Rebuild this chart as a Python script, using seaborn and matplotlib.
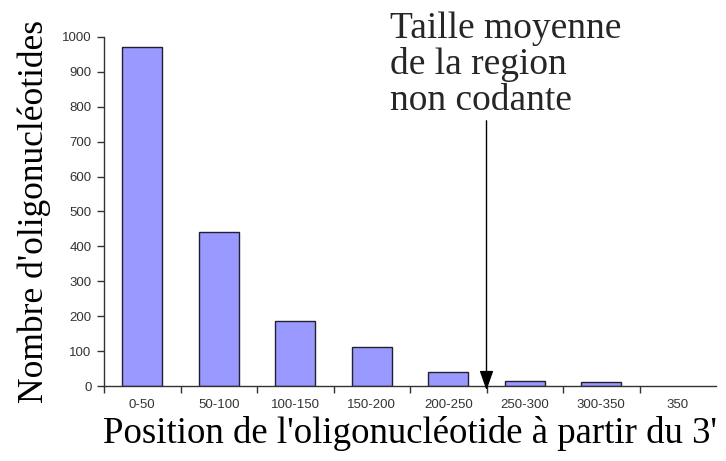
#!/usr/bin/env python3
"""Distribution des oligonucléotides selon leur position à partir du 3'."""

import matplotlib

matplotlib.use("Agg")
import matplotlib.pyplot as plt
import pandas as pd
import seaborn as sns

# Données
CATEGORIES = ["0-50", "50-100", "100-150", "150-200", "200-250",
              "250-300", "300-350", "350"]
COUNTS = [971, 441, 186, 112, 40, 14, 11, 0]
Y_TICKS = [0, 100, 200, 300, 400, 500, 600, 700, 800, 900, 1000]

# Taille moyenne de la région non codante (entre 200-250 et 250-300)
ARROW_X = 4.5

SERIF = "Liberation Serif"
SANS = "Liberation Sans"
BAR_COLOR = "#9999ff"


def main():
    sns.set_theme(style="white")
    plt.rcParams["font.family"] = [SANS, "DejaVu Sans"]

    df = pd.DataFrame({"position": CATEGORIES, "count": COUNTS})

    fig = plt.figure(figsize=(7.26, 4.61), dpi=100)
    ax = fig.add_axes([104 / 726, 75 / 461, 612 / 726, 349 / 461])

    sns.barplot(
        data=df,
        x="position",
        y="count",
        order=CATEGORIES,
        color=BAR_COLOR,
        saturation=1,
        edgecolor="#202030",
        linewidth=1.0,
        width=0.52,
        ax=ax,
    )
    # an empty class draws nothing
    for patch in ax.patches:
        if patch.get_height() == 0:
            patch.set_visible(False)

    n = len(CATEGORIES)
    ax.set_xlim(-0.5, n - 0.5)
    ax.set_ylim(0, 1000)

    # Labels centred under the bars, ticks between categories
    ax.set_xticks(range(n))
    ax.set_xticklabels(CATEGORIES, fontsize=9.5, family=SANS, color="#333333")
    ax.tick_params(axis="x", which="major", length=0, pad=9)
    ax.set_xticks([i - 0.5 for i in range(n)], minor=True)
    ax.tick_params(axis="x", which="minor", length=5, width=1,
                   color="#333333", direction="out", bottom=True)

    ax.set_yticks(Y_TICKS)
    ax.set_yticklabels([str(v) for v in Y_TICKS], fontsize=9.5, family=SANS,
                       color="#333333")
    ax.tick_params(axis="y", length=5, width=1, color="#333333",
                   direction="out", left=True, pad=4)

    for side in ["top", "right"]:
        ax.spines[side].set_visible(False)
    for side in ["left", "bottom"]:
        ax.spines[side].set_color("#333333")
        ax.spines[side].set_linewidth(1.0)

    ax.set_xlabel("Position de l'oligonucléotide à partir du 3'",
                  family=SERIF, fontsize=26.5, color="black", labelpad=4)
    ax.set_ylabel("Nombre d'oligonucléotides", family=SERIF, fontsize=25.5,
                  color="black", labelpad=8)

    # Flèche : taille moyenne de la région non codante
    ax.annotate(
        "",
        xy=(ARROW_X, -20),
        xytext=(ARROW_X, 768),
        arrowprops=dict(arrowstyle="-|>,head_length=0.85,head_width=0.3",
                        mutation_scale=14, color="black", lw=1.0),
        annotation_clip=False,
    )
    fig.text(390 / 726, 1 - 11 / 461,
             "Taille moyenne\nde la region\nnon codante",
             family=SERIF, fontsize=27, ha="left", va="top",
             linespacing=1.05)

    fig.savefig("out.png", dpi=100, facecolor="white")


if __name__ == "__main__":
    main()
